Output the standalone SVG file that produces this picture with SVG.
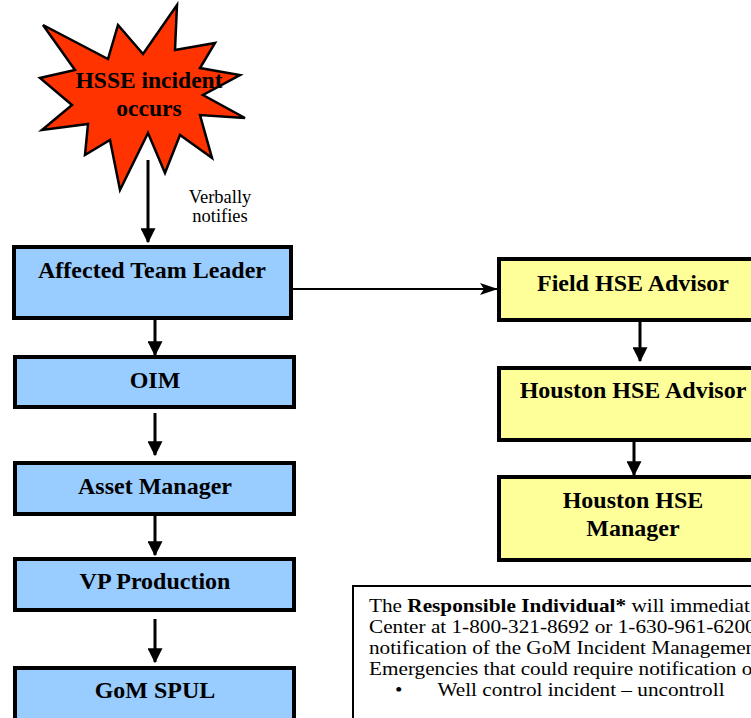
<svg xmlns="http://www.w3.org/2000/svg" width="751" height="718" viewBox="0 0 751 718">
<defs>
<style>
.blue{fill:#99CCFF;stroke:#000;stroke-width:4}
.yellow{fill:#FFFF99;stroke:#000;stroke-width:4}
.lbl{font-family:"Liberation Serif","Times New Roman",serif;font-weight:bold;font-size:24px;text-anchor:middle;fill:#000}
.small{font-family:"Liberation Serif","Times New Roman",serif;font-size:18.5px;text-anchor:middle;fill:#000}
.body{font-family:"Liberation Serif","Times New Roman",serif;font-size:18px;fill:#000}
.conn{stroke:#000;stroke-width:3;fill:none}
.thin{stroke:#000;stroke-width:2;fill:none}
</style>
<marker id="ah" markerWidth="5" markerHeight="5" refX="4.6" refY="2.5" orient="auto" markerUnits="strokeWidth" viewBox="0 0 5 5">
<path d="M0,0 L5,2.5 L0,5 Z" fill="#000"/>
</marker>
<marker id="ah2" markerWidth="9" markerHeight="7" refX="8.5" refY="3" orient="auto" markerUnits="strokeWidth" viewBox="0 0 9 6">
<path d="M0,0 L9,3 L0,6 L2,3 Z" fill="#000"/>
</marker>
</defs>
<rect width="751" height="718" fill="#fff"/>

<g id="star">
<polygon points="43,25 108,59 118,25 143,54 177,5 175,50 215,43 200,68 240,75 203,95 245,118 200,115 212,158 180,135 165,173 148,133 120,190 110,140 85,155 88,124 42,130 72,105 40,78 75,70" fill="#FF3300" stroke="#000" stroke-width="2.5" stroke-linejoin="miter"/>
<text class="lbl" x="149" y="88" style="font-size:23.5px">HSSE incident</text>
<text class="lbl" x="149" y="116" style="font-size:23.5px">occurs</text>
</g>

<g id="connectors">
<line class="conn" x1="148" y1="160" x2="148" y2="242" marker-end="url(#ah)"/>
<line class="conn" x1="155" y1="320" x2="155" y2="355" marker-end="url(#ah)"/>
<line class="conn" x1="155" y1="413" x2="155" y2="455" marker-end="url(#ah)"/>
<line class="conn" x1="155" y1="516" x2="155" y2="555" marker-end="url(#ah)"/>
<line class="conn" x1="155" y1="619" x2="155" y2="662" marker-end="url(#ah)"/>
<line class="thin" x1="293" y1="289" x2="497" y2="289" marker-end="url(#ah2)"/>
<line class="conn" x1="640" y1="322" x2="640" y2="361" marker-end="url(#ah)"/>
<line class="conn" x1="634" y1="442" x2="634" y2="475" marker-end="url(#ah)"/>
<text class="small" x="220" y="203">Verbally</text>
<text class="small" x="220" y="222">notifies</text>
</g>

<g id="atl">
<rect class="blue" x="14" y="247" width="277" height="71"/>
<text class="lbl" x="152" y="278">Affected Team Leader</text>
</g>
<g id="oim">
<rect class="blue" x="15" y="357" width="279" height="50"/>
<text class="lbl" x="155" y="388">OIM</text>
</g>
<g id="asset">
<rect class="blue" x="15" y="463" width="279" height="51"/>
<text class="lbl" x="155" y="494">Asset Manager</text>
</g>
<g id="vp">
<rect class="blue" x="15" y="559" width="279" height="51"/>
<text class="lbl" x="155" y="589">VP Production</text>
</g>
<g id="gom">
<rect class="blue" x="15" y="668" width="279" height="60"/>
<text class="lbl" x="155" y="698">GoM SPUL</text>
</g>

<g id="field">
<rect class="yellow" x="499" y="259" width="268" height="61"/>
<text class="lbl" x="633" y="291">Field HSE Advisor</text>
</g>
<g id="hadvisor">
<rect class="yellow" x="499" y="368" width="268" height="72"/>
<text class="lbl" x="633" y="398">Houston HSE Advisor</text>
</g>
<g id="hmanager">
<rect class="yellow" x="499" y="477" width="268" height="83"/>
<text class="lbl" x="633" y="508">Houston HSE</text>
<text class="lbl" x="633" y="536">Manager</text>
</g>

<g id="notebox">
<rect x="353" y="586" width="420" height="150" fill="#fff" stroke="#000" stroke-width="2"/>
<g transform="translate(369,0) scale(1.18,1)">
<text class="body" x="0" y="612">The <tspan font-weight="bold">Responsible Individual*</tspan> will immediat</text>
<text class="body" x="0" y="633">Center at 1-800-321-8692 or 1-630-961-6200</text>
<text class="body" x="0" y="654">notification of the GoM Incident Managemen</text>
<text class="body" x="0" y="675">Emergencies that could require notification o</text>
<text class="body" x="22" y="696">•</text>
<text class="body" x="58" y="696">Well control incident – uncontroll</text>
</g>
</g>
</svg>
